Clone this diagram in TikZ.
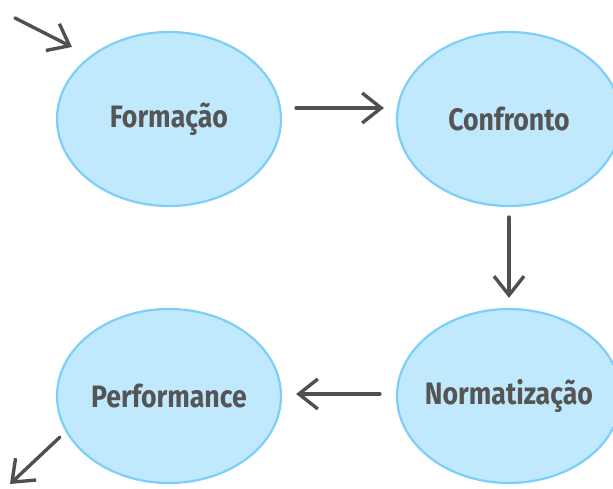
\documentclass[tikz,border=0pt]{standalone}
\usepackage{fontspec}
\setmainfont[FakeStretch=0.86]{Fira Sans}
\usetikzlibrary{arrows.meta,shapes.geometric}
\definecolor{stagefill}{RGB}{192,233,253}
\definecolor{stageline}{RGB}{125,207,247}
\definecolor{stagetext}{RGB}{85,85,85}
\definecolor{pencil}{RGB}{80,80,80}
\tikzset{
  stage/.style={ellipse, draw=stageline, fill=stagefill, line width=2.2pt,
    minimum width=224pt, minimum height=174pt, inner sep=0pt,
    label={[stagename]center:#1}},
  stagename/.style={text=stagetext, inner sep=0pt,
    font=\fontsize{31}{34}\selectfont\bfseries},
  sketch/.style={draw=pencil, line width=3.4pt, line cap=round,
    -{Straight Barb[length=19pt, width=30pt, line width=3.4pt]}}
}
\begin{document}
\begin{tikzpicture}[x=1pt, y=-1pt]
\useasboundingbox (0,0) rectangle (613,489);
\node[stage=Formação] (form) at (169,119) {};
\node[stage=Confronto] (conf) at (509,119) {};
\node[stage=Normatização] (norm) at (509,396) {};
\node[stage=Performance] (perf) at (169,396) {};
\coordinate (in) at (15,18);
\coordinate (inend) at (72,47);
\coordinate (outstart) at (60,437);
\coordinate (out) at (10,484);
\draw[sketch] (in) -- (inend);
\draw[sketch, shorten <=14pt, shorten >=12pt] ([yshift=11pt]form.east) -- ([yshift=11pt]conf.west);
\draw[sketch, shorten <=10pt, shorten >=10pt] (conf.south) -- (norm.north);
\draw[sketch, shorten <=16pt, shorten >=14pt] ([yshift=2pt]norm.west) -- ([yshift=2pt]perf.east);
\draw[sketch] (outstart) -- (out);
\end{tikzpicture}
\end{document}
